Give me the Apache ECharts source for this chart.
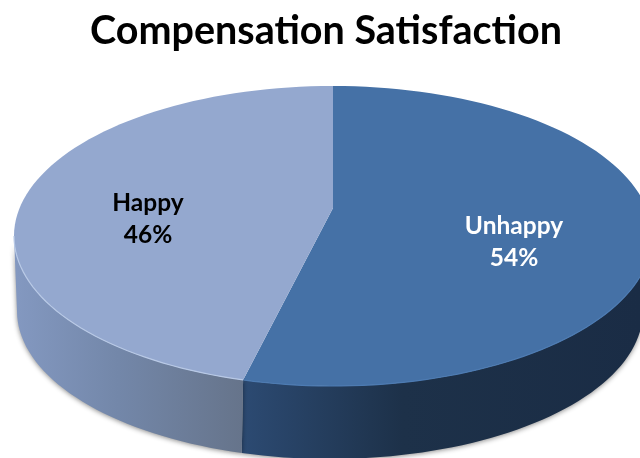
<!DOCTYPE html>
<html>
<head>
<meta charset="utf-8">
<style>
html,body{margin:0;padding:0;background:#fff;overflow:hidden}
#main{width:640px;height:458px}
</style>
<script src="https://cdn.jsdelivr.net/npm/echarts@6/dist/echarts.min.js"></script>
</head>
<body>
<div id="main"></div>
<script>
var chartTitle = 'Compensation Satisfaction';
var categories = ['Unhappy', 'Happy'];
var shares = [54, 46];

var topColors = ['#4571a6', '#94a8cf'];
var rimColors = ['#4d7bb2', '#b8c9e6'];
var labelColors = ['#ffffff', '#000000'];
var labelSpots = [[514, 242], [148, 219]];
var wallStops = [
    [[0, '#2c4a72'], [0.4, '#1d3149'], [1, '#1a2c45']],
    [[0, '#8398c0'], [0.45, '#7387a9'], [1, '#66748b']]
];

// top face and bottom rim of the disc, the apex sits above the ellipse centre (perspective)
var top_e = {cx: 333, cy: 236, rx: 319, ry: 150};
var bot_e = {cx: 330, cy: 311, rx: 313, ry: 148};
var apex = [333, 208];

var total = shares.reduce(function(a, b){ return a + b; }, 0);

function to_param(deg){
    // perspective pushes the front of the pie a little
    var s = Math.sin(deg / 2 * Math.PI / 180);
    return deg + 2 * s * s - 90;
}

function arc(e, from, to){
    var pts = [];
    var n = Math.max(2, Math.ceil(Math.abs(to - from) / 2));
    for (var i = 0; i <= n; i++) {
        var t = (from + (to - from) * i / n) * Math.PI / 180;
        pts.push([e.cx + e.rx * Math.cos(t), e.cy + e.ry * Math.sin(t)]);
    }
    return pts;
}

function render_slice(params, api){
    var i = params.dataIndex;
    var before = 0;
    for (var k = 0; k < i; k++) before += shares[k];
    var t1 = to_param(before / total * 360);
    var t2 = to_param((before + api.value(0)) / total * 360);
    var children = [];

    var w1 = Math.max(t1, 0), w2 = Math.min(t2, 180);
    if (w2 > w1) {
        var x1 = arc(bot_e, w1, w2);
        var xs = x1.map(function(p){ return p[0]; });
        var xa = Math.min.apply(null, xs), xb = Math.max.apply(null, xs);
        var colorStops = wallStops[i].map(function(s){ return {offset: s[0], color: s[1]}; });
        // the unhappy wall darkens to the right, the happy wall to the boundary
        children.push({
            type: 'polygon',
            shape: {points: arc(top_e, w1, w2).concat(x1.reverse())},
            style: {
                fill: i == 0
                    ? new echarts.graphic.LinearGradient(244, 0, 640, 0, colorStops, true)
                    : new echarts.graphic.LinearGradient(xa, 0, xb, 0, colorStops, true),
                shadowBlur: 5,
                shadowColor: 'rgba(0,0,0,0.45)',
                shadowOffsetY: 1
            }
        });
    }

    children.push({
        type: 'polygon',
        shape: {points: [apex].concat(arc(top_e, t1, t2))},
        style: {fill: topColors[i]}
    });
    children.push({
        type: 'polyline',
        shape: {points: arc(top_e, Math.max(t1, 0), Math.min(t2, 180))},
        style: {fill: 'none', stroke: rimColors[i], lineWidth: 1.2}
    });
    children.push({
        type: 'text',
        style: {
            text: categories[i] + '\n' + api.value(0) + '%',
            x: labelSpots[i][0],
            y: labelSpots[i][1],
            fill: labelColors[i],
            fontFamily: 'Lato',
            fontWeight: 'bold',
            fontSize: 24.5,
            lineHeight: 32,
            align: 'center',
            verticalAlign: 'middle'
        },
        z2: 10
    });
    return {type: 'group', children: children};
}

var myChart = echarts.init(document.getElementById('main'));
myChart.setOption({
    animation: false,
    title: {
        text: chartTitle,
        left: 321,
        top: 6,
        textAlign: 'center',
        textStyle: {fontFamily: 'Lato', fontWeight: 'bold', fontSize: 39.5, color: '#000'}
    },
    series: [{
        type: 'custom',
        coordinateSystem: 'none',
        clip: false,
        renderItem: render_slice,
        data: shares.map(function(v){ return [v]; })
    }]
});
</script>
</body>
</html>
